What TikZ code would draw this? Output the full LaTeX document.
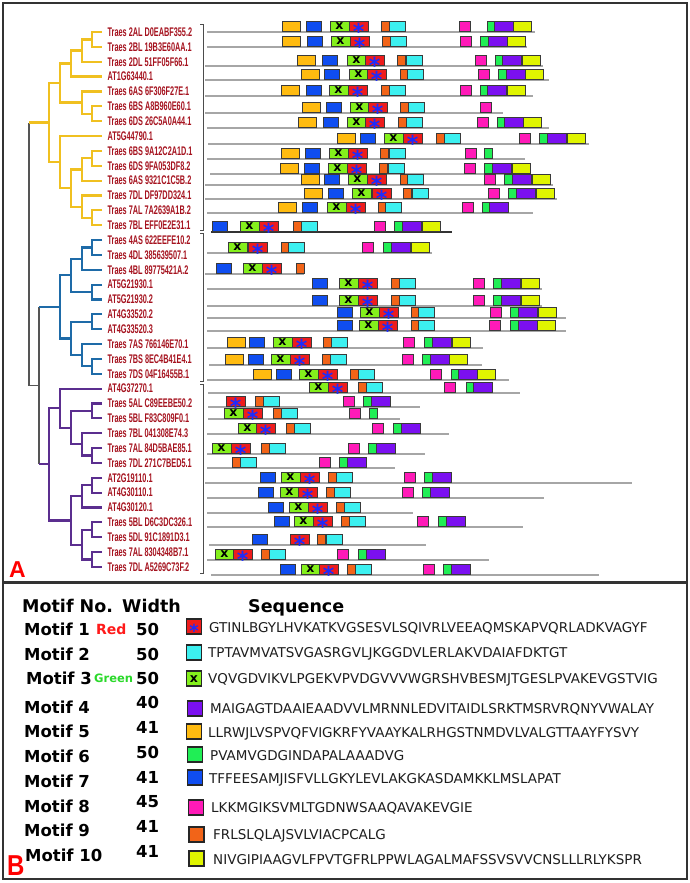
\documentclass[tikz,border=0pt]{standalone}
\usepackage{fontspec}
\setmainfont{DejaVu Sans}
\newfontfamily\dvs{DejaVu Sans}
\newfontfamily\lsans{Liberation Sans}
\definecolor{treeY}{HTML}{F0C020}
\definecolor{treeB}{HTML}{1E6BA8}
\definecolor{treeP}{HTML}{5B2E8F}
\definecolor{rootgrey}{HTML}{555555}
\definecolor{labred}{HTML}{A5121E}
\definecolor{bbgrey}{HTML}{A6A6A6}
\definecolor{boxedge}{HTML}{3A3A3A}
\definecolor{starblue}{HTML}{1A2CFF}
\definecolor{seqgrey}{HTML}{1E1E1E}
\definecolor{redlab}{HTML}{FF1A1A}
\definecolor{greenlab}{HTML}{2BD92B}
\definecolor{mc1}{HTML}{EE1C1C}
\definecolor{mc2}{HTML}{3CF0F0}
\definecolor{mc3}{HTML}{84F01C}
\definecolor{mc4}{HTML}{7B10F0}
\definecolor{mc5}{HTML}{FFBB10}
\definecolor{mc6}{HTML}{20EE55}
\definecolor{mc7}{HTML}{0F4DF0}
\definecolor{mc8}{HTML}{FF1AB8}
\definecolor{mc9}{HTML}{F26418}
\definecolor{mc10}{HTML}{E0F500}
\newcount\gcnt
\newcommand\mt[3]{%
  \edef\mtw{\ifcase#1\or19\or16\or19\or19\or18\or8\or15\or11\or8\or18\fi}%
  \filldraw[mbox,fill=mc#1] ({#2},{#3-11}) rectangle ++(\mtw,10.5);%
  \ifnum#1=1 \global\advance\gcnt by 1 \node[starm] (g\the\gcnt) at ({#2+9.5},{#3-5}) {\smash{\raisebox{-12.4pt}{*}}};\fi
  \ifnum#1=3 \global\advance\gcnt by 1 \node[xm] (g\the\gcnt) at ({#2+9.5},{#3-2.5}) {x};\fi
}
\newcommand\mrow[5][mline]{%
  \draw[#1] (#3,#2) -- (#4,#2);
  \foreach \qm/\qx in {#5}{\mt{\qm}{\qx}{#2}}%
}
\begin{document}
\begin{tikzpicture}[x=1pt,y=-1pt,
 yb/.style={draw=treeY,line width=2.2pt},
 bb/.style={draw=treeB,line width=2.2pt},
 pb/.style={draw=treeP,line width=2.2pt},
 rootl/.style={draw=rootgrey,line width=1.2pt},
 lbl/.style={anchor=west,inner sep=0pt,text=labred,font=\lsans\bfseries\fontsize{12.5}{13}\selectfont,xscale=0.585},
 mline/.style={draw=bbgrey,line width=1.2pt},
 mlineb/.style={draw=black!80,line width=1.5pt},
 mbox/.style={draw=boxedge,line width=0.5pt},
 starm/.style={anchor=center,inner sep=0pt,text=starblue,font=\dvs\bfseries\fontsize{22}{22}\selectfont},
 starl/.style={anchor=base,inner sep=0pt,text=starblue,font=\dvs\bfseries\fontsize{18}{18}\selectfont},
 xm/.style={anchor=base,inner sep=0pt,text=black,font=\dvs\bfseries\fontsize{12.5}{12.5}\selectfont},
 brk/.style={draw=black!70,line width=0.9pt},
 hdr/.style={anchor=base west,inner sep=0pt,font=\dvs\bfseries\fontsize{17.5}{18}\selectfont},
 mlab/.style={anchor=base west,inner sep=0pt,font=\dvs\bfseries\fontsize{16.5}{17}\selectfont},
 seq/.style={anchor=base west,inner sep=0pt,text=seqgrey,font=\dvs\fontsize{13.5}{14}\selectfont},
 lsq/.style={draw=black!85,line width=1.2pt,minimum size=15pt,inner sep=0pt},
 frame/.style={draw=black!80,line width=1.5pt},
 sepl/.style={draw=black!80,line width=3pt}]
\useasboundingbox (0,0) rectangle (690,883);
\fill[white] (0,0) rectangle (690,883);
% frame
\draw[frame] (3,3) rectangle (687,879);
\draw[sepl] (3,582.5) -- (687,582.5);
% leaves and labels
\foreach \i/\yy/\tx in {1/32.00/Traes 2AL D0EABF355.2, 2/46.86/Traes 2BL 19B3E60AA.1, 3/61.72/Traes 2DL 51FF05F66.1, 4/76.58/AT1G63440.1, 5/91.44/Traes 6AS 6F306F27E.1, 6/106.30/Traes 6BS A8B960E60.1, 7/121.16/Traes 6DS 26C5A0A44.1, 8/136.02/AT5G44790.1, 9/150.88/Traes 6BS 9A12C2A1D.1, 10/165.74/Traes 6DS 9FA053DF8.2, 11/180.60/Traes 6AS 9321C1C5B.2, 12/195.46/Traes 7DL DF97DD324.1, 13/210.32/Traes 7AL 7A2639A1B.2, 14/225.18/Traes 7BL EFF0E2E31.1, 15/240.04/Traes 4AS 622EEFE10.2, 16/254.90/Traes 4DL 385639507.1, 17/269.76/Traes 4BL 89775421A.2, 18/284.62/AT5G21930.1, 19/299.48/AT5G21930.2, 20/314.34/AT4G33520.2, 21/329.20/AT4G33520.3, 22/344.06/Traes 7AS 766146E70.1, 23/358.92/Traes 7BS 8EC4B41E4.1, 24/373.78/Traes 7DS 04F16455B.1, 25/388.64/AT4G37270.1, 26/403.50/Traes 5AL C89EEBE50.2, 27/418.36/Traes 5BL F83C809F0.1, 28/433.22/Traes 7BL 041308E74.3, 29/448.08/Traes 7AL 84D5BAE85.1, 30/462.94/Traes 7DL 271C7BED5.1, 31/477.80/AT2G19110.1, 32/492.66/AT4G30110.1, 33/507.52/AT4G30120.1, 34/522.38/Traes 5BL D6C3DC326.1, 35/537.24/Traes 5DL 91C1891D3.1, 36/552.10/Traes 7AL 8304348B7.1, 37/566.96/Traes 7DL A5269C73F.2}
{\coordinate (l\i) at (102,\yy); \node[lbl] (t\i) at (107.5,\yy) {\tx};}
% internal nodes
\coordinate (y12) at (92,39.43); \coordinate (y13) at (82,50.57); \coordinate (y14) at (71,63.58);
\coordinate (y67) at (92,113.73); \coordinate (y57) at (82,102.59); \coordinate (yA) at (60,83.08);
\coordinate (y910) at (92,158.31); \coordinate (y911) at (82,169.46); \coordinate (y1314) at (92,217.75);
\coordinate (y1214) at (82,206.60); \coordinate (y914) at (71,188.03); \coordinate (yB) at (60,162.03);
\coordinate (yR) at (49,122.55);
\coordinate (b1516) at (92,247.47); \coordinate (b1517) at (82,258.62); \coordinate (b1819) at (92,292.05);
\coordinate (b1519) at (71,275.33); \coordinate (b2021) at (92,321.77); \coordinate (b2324) at (92,366.35);
\coordinate (b2224) at (82,355.20); \coordinate (b2024) at (71,338.49); \coordinate (bR) at (60,306.91);
\coordinate (p2627) at (92,410.93); \coordinate (p2930) at (92,455.51); \coordinate (p2830) at (82,444.37);
\coordinate (p2630) at (71,427.65); \coordinate (p2530) at (60,408.15); \coordinate (p3132) at (92,485.23);
\coordinate (p3133) at (82,496.38); \coordinate (p3435) at (92,529.81); \coordinate (p3637) at (92,559.53);
\coordinate (p3437) at (82,544.67); \coordinate (p3137) at (71,520.53); \coordinate (pR) at (49,464.34);
\coordinate (r0) at (29,254.09); \coordinate (r1) at (39,385.63);
% yellow clade
\draw[yb] (l1) -| (y12) |- (l2);
\draw[yb] (y12) -| (y13) |- (l3);
\draw[yb] (y13) -| (y14) |- (l4);
\draw[yb] (l6) -| (y67) |- (l7);
\draw[yb] (l5) -| (y57) |- (y67);
\draw[yb] (y14) -| (yA) |- (y57);
\draw[yb] (l9) -| (y910) |- (l10);
\draw[yb] (y910) -| (y911) |- (l11);
\draw[yb] (l13) -| (y1314) |- (l14);
\draw[yb] (l12) -| (y1214) |- (y1314);
\draw[yb] (y911) -| (y914) |- (y1214);
\draw[yb] (l8) -| (yB) |- (y914);
\draw[yb] (yA) -| (yR) |- (yB);
% blue clade
\draw[bb] (l15) -| (b1516) |- (l16);
\draw[bb] (b1516) -| (b1517) |- (l17);
\draw[bb] (l18) -| (b1819) |- (l19);
\draw[bb] (b1517) -| (b1519) |- (b1819);
\draw[bb] (l20) -| (b2021) |- (l21);
\draw[bb] (l23) -| (b2324) |- (l24);
\draw[bb] (l22) -| (b2224) |- (b2324);
\draw[bb] (b2021) -| (b2024) |- (b2224);
\draw[bb] (b1519) -| (bR) |- (b2024);
% purple clade
\draw[pb] (l26) -| (p2627) |- (l27);
\draw[pb] (l29) -| (p2930) |- (l30);
\draw[pb] (l28) -| (p2830) |- (p2930);
\draw[pb] (p2627) -| (p2630) |- (p2830);
\draw[pb] (l25) -| (p2530) |- (p2630);
\draw[pb] (l31) -| (p3132) |- (l32);
\draw[pb] (p3132) -| (p3133) |- (l33);
\draw[pb] (l34) -| (p3435) |- (l35);
\draw[pb] (l36) -| (p3637) |- (l37);
\draw[pb] (p3435) -| (p3437) |- (p3637);
\draw[pb] (p3133) -| (p3137) |- (p3437);
\draw[pb] (p2530) -| (pR) |- (p3137);
% root
\draw[rootl] (r0 |- yR) -- (r0 |- r1) -- (r1);
\draw[rootl] (r1 |- bR) -- (r1 |- pR);
\draw[yb] (r0 |- yR) -- (yR);
\draw[bb] (r1 |- bR) -- (bR);
\draw[pb] (r1 |- pR) -- (pR);
% brackets
\draw[brk] (200,24) -- (203,24) -- (203,230) -- (200,230);
\draw[brk] (200,233) -- (203,233) -- (203,381) -- (200,381);
\draw[brk] (200,384) -- (203,384) -- (203,573) -- (200,573);
% motif rows
\mrow{32}{207}{535}{5/282,7/306,3/330,1/349,9/381,2/389,8/459,6/487,4/494,10/513}
\mrow{47}{207}{527}{5/282,7/307,3/331,1/350,9/382,2/390,8/460,6/480,4/488,10/507}
\mrow{66}{205}{543}{5/297,7/322,3/347,1/365,9/397,2/406,8/475,6/495,4/502,10/522}
\mrow{80}{205}{549}{5/301,7/324,3/349,1/367,9/400,2/407,8/478,6/498,4/506,10/525}
\mrow{96}{205}{533}{5/281,7/306,3/329,1/348,9/381,2/389,8/460,6/480,4/487,10/507}
\mrow{113}{205}{503}{5/302,7/326,3/350,1/368,9/400,2/408,8/480}
\mrow{128}{207}{549}{5/298,7/323,3/347,1/365,9/398,2/406,8/477,6/497,4/504,10/523}
\mrow{144}{208}{589}{5/337,7/360,3/384,1/403,9/436,2/444,8/519,6/539,4/547,10/567}
\mrow{159}{207}{525}{5/281,7/305,3/329,1/348,9/380,2/389,8/465,6/484}
\mrow{174}{210}{529}{5/280,7/304,3/328,1/347,9/379,2/388,8/464,6/484,4/492,10/512}
\mrow{185}{205}{553}{5/301,7/324,3/348,1/367,9/400,2/407,8/484,6/504,4/512,10/532}
\mrow{199}{205}{557}{5/304,7/328,3/352,1/372,9/403,2/412,8/488,6/508,4/516,10/536}
\mrow{213}{207}{533}{5/278,7/302,3/327,1/346,9/378,2/385,8/462,6/482,4/489}
\mrow[mlineb]{232}{211}{452}{7/212,3/240,1/259,9/293,2/301,8/374,6/394,4/402,10/422}
\mrow{253}{207}{432}{3/228,1/248,9/281,2/288,8/362,6/383,4/391,10/411}
\mrow{274}{205}{304}{7/216,3/243,1/262,9/296}
\mrow{289}{207}{542}{7/312,3/339,1/358,9/391,2/399,8/473,6/493,4/501,10/521}
\mrow{306}{207}{542}{7/312,3/339,1/358,9/391,2/399,8/473,6/493,4/501,10/521}
\mrow{318}{207}{566}{7/337,3/360,1/379,9/411,2/418,8/490,6/510,4/518,10/538}
\mrow{331}{207}{566}{7/337,3/359,1/378,9/411,2/418,8/489,6/510,4/518,10/537}
\mrow{348}{207}{483}{5/227,7/249,3/273,1/292,9/323,2/331,8/403,6/424,4/432,10/452}
\mrow{365}{209}{482}{5/225,7/248,3/271,1/290,9/322,2/330,8/402,6/422,4/430,10/449}
\mrow{380}{207}{509}{5/253,7/276,3/299,1/318,9/350,2/358,8/430,6/451,4/458,10/477}
\mrow{393}{208}{520}{3/309,1/328,9/358,2/366,8/444,6/466,4/473}
\mrow{407}{208}{420}{1/226,9/255,2/263,8/343,6/363,4/371}
\mrow{419}{208}{400}{3/224,1/243,9/273,2/281,8/349,6/369}
\mrow{434}{207}{449}{3/238,1/256,9/286,2/294,8/372,6/393,4/401}
\mrow{454}{207}{425}{3/212,1/231,9/261,2/269,8/348,6/368,4/376}
\mrow{468}{207}{395}{9/232,2/240,8/319,6/339,4/347}
\mrow{483}{205}{632}{7/260,3/281,1/300,9/328,2/336,8/404,6/424,4/432}
\mrow{498}{207}{544}{7/258,3/280,1/298,9/326,2/334,8/402,6/422,4/430}
\mrow{513}{207}{413}{7/268,3/289,1/308,9/336,2/344}
\mrow{527}{207}{523}{7/274,3/294,1/313,9/341,2/349,8/417,6/438,4/446}
\mrow{545}{209}{426}{7/252,1/290,9/317,2/326}
\mrow{560}{207}{489}{3/215,1/233,9/261,2/269,8/337,6/358,4/366}
\mrow{575}{211}{599}{7/280,3/301,1/319,9/347,2/355,8/423,6/443,4/451}
% panel letters
\node[anchor=base west,inner sep=0pt,text=red,font=\lsans\bfseries\fontsize{23}{23}\selectfont] (pA) at (9,577) {A};
\node[anchor=base west,inner sep=0pt,text=red,font=\lsans\bfseries\fontsize{24}{24}\selectfont,yscale=1.2] (pB) at (7,875) {B};
% panel B
\node[hdr] (hn) at (22,612) {Motif No.};
\node[hdr] (hw) at (122,612) {Width};
\node[hdr] (hs) at (248,612) {Sequence};
\foreach \i/\lx/\ly/\wy/\wv in {1/24/635/635/50, 2/24/660/660/50, 3/26/684/684/50, 4/24/713/708/40, 5/24/737/733/41, 6/24/762/758/50, 7/24/787/783/41, 8/24/812/807/45, 9/24/836/832/41, 10/25/861/857/41}
{\node[mlab] (mn\i) at (\lx,\ly) {Motif \i}; \node[mlab] (w\i) at (136,\wy) {\wv};}
\node[anchor=base west,inner sep=0pt,text=redlab,font=\dvs\bfseries\fontsize{14}{14}\selectfont] (redt) at (96,634) {Red};
\node[anchor=base west,inner sep=0pt,text=greenlab,font=\dvs\bfseries\fontsize{11.5}{12}\selectfont] (grnt) at (94,682) {Green};
\foreach \i/\sx/\sy in {1/194/626.5, 2/194/652.5, 3/194/678.5, 4/195/708.5, 5/194/731.5, 6/195/754.5, 7/195/777.5, 8/196/807.5, 9/196.5/834.5, 10/196.5/858.5}
{\node[lsq,fill=mc\i] (sq\i) at (\sx,\sy) {};}
\node[starl] (lg1) at (194,637.5) {*};
\node[xm] (lg3) at (194,682.5) {x};
\node[seq] (s1) at (209,632) {GTINLBGYLHVKATKVGSESVLSQIVRLVEEAQMSKAPVQRLADKVAGYF};
\node[seq] (s2) at (208,657) {TPTAVMVATSVGASRGVLJKGGDVLERLAKVDAIAFDKTGT};
\node[seq] (s3) at (208,683) {VQVGDVIKVLPGEKVPVDGVVVWGRSHVBESMJTGESLPVAKEVGSTVIG};
\node[seq] (s4) at (210,713) {MAIGAGTDAAIEAADVVLMRNNLEDVITAIDLSRKTMSRVRQNYVWALAY};
\node[seq] (s5) at (208,737) {LLRWJLVSPVQFVIGKRFYVAAYKALRHGSTNMDVLVALGTTAAYFYSVY};
\node[seq] (s6) at (210,760) {PVAMVGDGINDAPALAAADVG};
\node[seq] (s7) at (209,783) {TFFEESAMJISFVLLGKYLEVLAKGKASDAMKKLMSLAPAT};
\node[seq] (s8) at (211,812) {LKKMGIKSVMLTGDNWSAAQAVAKEVGIE};
\node[seq] (s9) at (213,839) {FRLSLQLAJSVLVIACPCALG};
\node[seq] (s10) at (213,864) {NIVGIPIAAGVLFPVTGFRLPPWLAGALMAFSSVSVVCNSLLLRLYKSPR};
\end{tikzpicture}
\end{document}
